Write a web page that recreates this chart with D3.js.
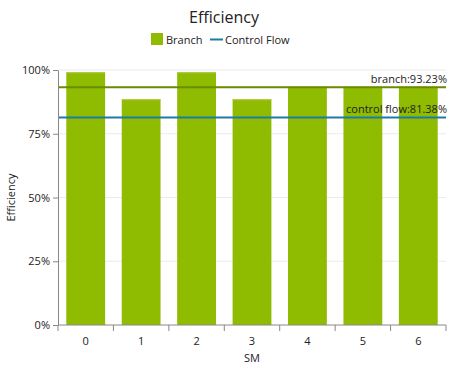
<!DOCTYPE html>
<html>
<head>
<meta charset="utf-8">
<script src="https://cdn.jsdelivr.net/npm/d3@7"></script>
<style>
  body { margin: 0; background: #fff; }
  text { font-family: "Open Sans", "Noto Sans", sans-serif; fill: #222; }
</style>
</head>
<body>
<script>
// data
var smLabels = ["0", "1", "2", "3", "4", "5", "6"];
var branchValues = [99.1, 88.5, 99.1, 88.5, 93.4, 93.4, 93.4];
var branchAvg = 93.23;
var controlFlowAvg = 81.38;
var yTicks = [0, 25, 50, 75, 100];

var margin = {top: 70, right: 3, bottom: 45, left: 58},
    width = 449 - margin.left - margin.right,
    height = 370 - margin.top - margin.bottom;

var svg = d3.select("body").append("svg")
    .attr("width", 449)
    .attr("height", 370);

var g = svg.append("g")
    .attr("transform", "translate(" + margin.left + "," + margin.top + ")");

var x = d3.scaleBand().domain(smLabels).range([0, width]).paddingInner(0.3).paddingOuter(0.15);
var xBand = d3.scaleBand().domain(smLabels).range([0, width]);
var y = d3.scaleLinear().domain([0, 100]).range([height, 0]);

// gridlines
g.selectAll(".grid")
    .data(yTicks.slice(1))
  .enter().append("line")
    .attr("x1", 0).attr("x2", width)
    .attr("y1", function(d) { return y(d); })
    .attr("y2", function(d) { return y(d); })
    .attr("stroke", "#ebebeb");

// bars
g.selectAll(".bar")
    .data(branchValues)
  .enter().append("rect")
    .attr("x", function(d, i) { return x(smLabels[i]); })
    .attr("y", function(d) { return y(d); })
    .attr("width", x.bandwidth())
    .attr("height", function(d) { return height - y(d); })
    .attr("fill", "#8fbb00");

g.selectAll(".bartop")
    .data(branchValues)
  .enter().append("rect")
    .attr("x", function(d, i) { return x(smLabels[i]); })
    .attr("y", function(d) { return y(d); })
    .attr("width", x.bandwidth())
    .attr("height", 1)
    .attr("fill", "#a8cc44");

// average lines
g.append("line")
    .attr("x1", 0).attr("x2", width)
    .attr("y1", y(branchAvg)).attr("y2", y(branchAvg))
    .attr("stroke", "#6b8a00").attr("stroke-width", 2);
g.append("line")
    .attr("x1", 0).attr("x2", width)
    .attr("y1", y(controlFlowAvg)).attr("y2", y(controlFlowAvg))
    .attr("stroke", "#1f7aa6").attr("stroke-width", 2);

g.append("text")
    .attr("x", width + 1).attr("y", y(branchAvg) - 4)
    .attr("text-anchor", "end")
    .style("font-size", "11px")
    .text("branch:" + branchAvg.toFixed(2) + "%");
g.append("text")
    .attr("x", width + 1).attr("y", y(controlFlowAvg) - 4)
    .attr("text-anchor", "end")
    .style("font-size", "11px")
    .text("control flow:" + controlFlowAvg.toFixed(2) + "%");

// y axis
var yAxis = g.append("g")
    .call(d3.axisLeft(y).tickValues(yTicks).tickSize(5).tickSizeOuter(0)
      .tickFormat(function(d) { return d + "%"; }));
yAxis.select(".domain").attr("stroke", "#888");
yAxis.selectAll(".tick line").attr("stroke", "#888");
yAxis.selectAll(".tick text").style("font-size", "11px").style("font-family", "'Open Sans', sans-serif").attr("fill", "#222");

// x axis (ticks on band edges)
var xAxis = g.append("g")
    .attr("transform", "translate(0," + height + ")");
xAxis.append("line")
    .attr("x1", 0).attr("x2", width)
    .attr("stroke", "#888");
xAxis.selectAll(".edge")
    .data(smLabels.concat(["end"]))
  .enter().append("line")
    .attr("x1", function(d, i) { return i * xBand.bandwidth(); })
    .attr("x2", function(d, i) { return i * xBand.bandwidth(); })
    .attr("y1", 0).attr("y2", 6)
    .attr("stroke", "#888");
xAxis.selectAll(".lbl")
    .data(smLabels)
  .enter().append("text")
    .attr("x", function(d) { return xBand(d) + xBand.bandwidth() / 2; })
    .attr("y", 20)
    .attr("text-anchor", "middle")
    .style("font-size", "11px")
    .text(function(d) { return d; });

// axis titles
svg.append("text")
    .attr("x", margin.left + width / 2).attr("y", 362)
    .attr("text-anchor", "middle")
    .style("font-size", "11px")
    .text("SM");
svg.append("text")
    .attr("transform", "translate(15," + (margin.top + height / 2) + ") rotate(-90)")
    .attr("text-anchor", "middle")
    .style("font-size", "11px")
    .text("Efficiency");

// title
svg.append("text")
    .attr("x", 224).attr("y", 23)
    .attr("text-anchor", "middle")
    .style("font-size", "16px")
    .text("Efficiency");

// legend
var legend = svg.append("g");
legend.append("rect")
    .attr("x", 151).attr("y", 33).attr("width", 12).attr("height", 12)
    .attr("fill", "#8fbb00");
legend.append("text")
    .attr("x", 166).attr("y", 43.5)
    .style("font-size", "11px")
    .text("Branch");
legend.append("line")
    .attr("x1", 210).attr("x2", 223).attr("y1", 39.5).attr("y2", 39.5)
    .attr("stroke", "#1f7aa6").attr("stroke-width", 2);
legend.append("text")
    .attr("x", 225).attr("y", 43.5)
    .style("font-size", "11px")
    .text("Control Flow");
</script>
</body>
</html>
